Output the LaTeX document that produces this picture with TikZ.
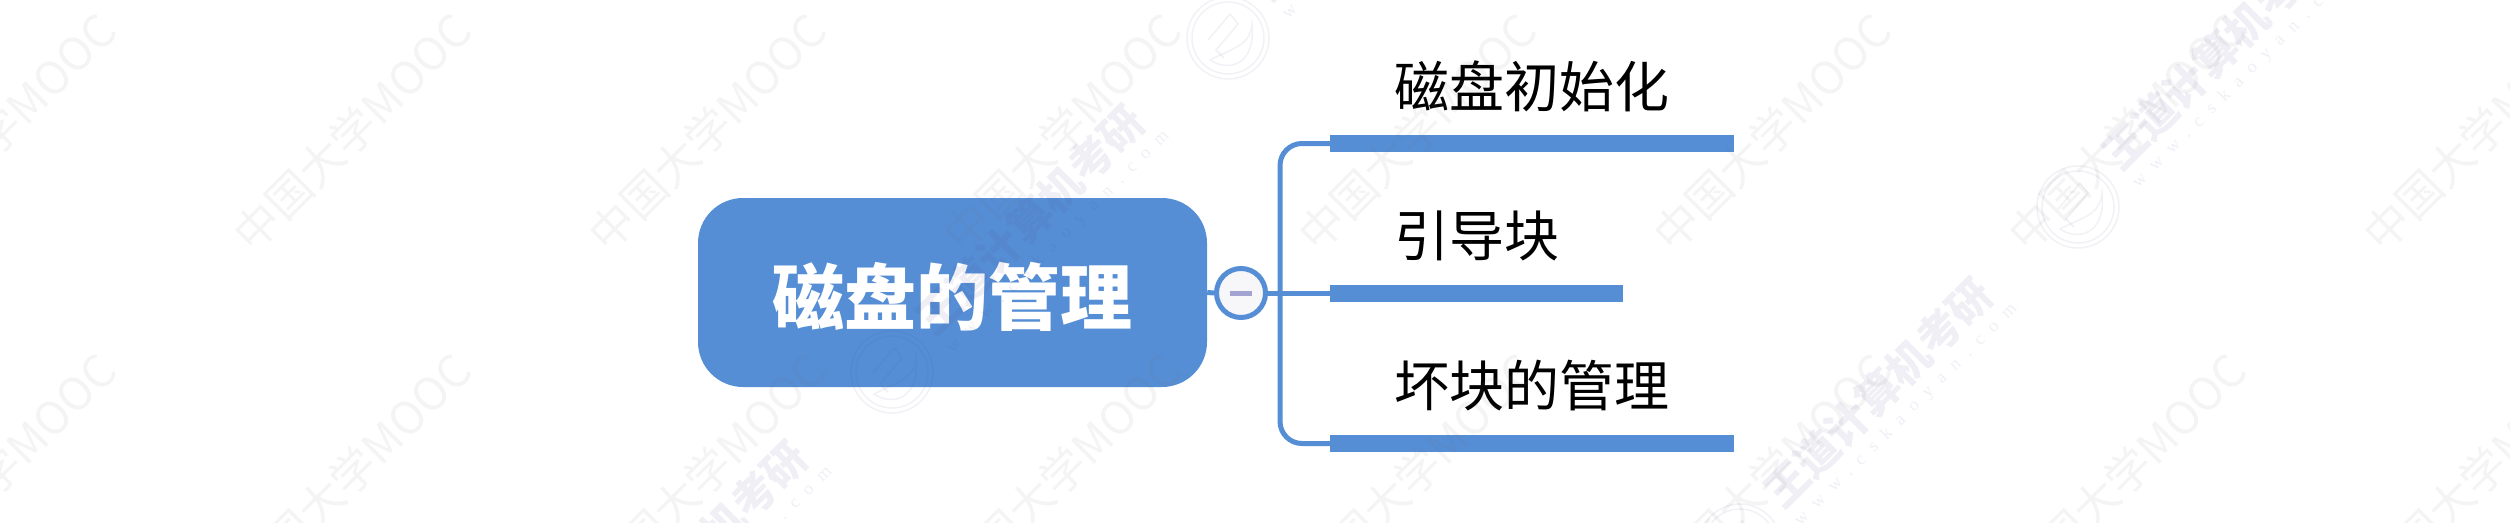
\documentclass[tikz,border=0pt]{standalone}
\usepackage{fontspec}
\usetikzlibrary{positioning}
\newfontfamily\cjk{Noto Sans CJK SC}
\newfontfamily\siteurl[LetterSpace=60]{Liberation Serif}
\definecolor{mapblue}{HTML}{558ED5}
\definecolor{togglefill}{HTML}{F7F7FA}
\definecolor{minusbar}{HTML}{A3A3D2}
\definecolor{stamp}{HTML}{4A4A8C}
\tikzset{
  rootbox/.style={rectangle,fill=mapblue,rounded corners=45pt,minimum width=509pt,minimum height=189pt,
    text=white,font=\cjk\bfseries\fontsize{72}{72}\selectfont,inner sep=0pt},
  togglenode/.style={circle,draw=mapblue,line width=5pt,fill=togglefill,minimum size=49pt,inner sep=0pt},
  minusnode/.style={rectangle,fill=minusbar,minimum width=22pt,minimum height=5pt,inner sep=0pt},
  topicbar/.style={rectangle,fill=mapblue,minimum height=17pt,inner sep=0pt,anchor=west},
  topiclabel/.style={anchor=west,inner sep=0pt,font=\cjk\fontsize{55}{55}\selectfont},
  branch/.style={draw=mapblue,line width=5pt},
  mooctext/.style={rotate=45,text=black!55,text opacity=.08,inner sep=0pt,font=\cjk\fontsize{45}{45}\selectfont},
  wangtext/.style={rotate=45,text=stamp,text opacity=.09,inner sep=0pt,font=\cjk\bfseries\fontsize{43}{43}\selectfont},
  urltext/.style={rotate=45,text=stamp,text opacity=.09,inner sep=0pt,font=\siteurl\fontsize{18}{18}\selectfont},
  stampline/.style={draw=stamp,draw opacity=.08,line width=1.5pt}
}

\begin{document}
\begin{tikzpicture}[x=1pt,y=-1pt]
      \useasboundingbox (0,0) rectangle (2510,522);
      \node[rootbox] (root) at (952.5,292.5) {\raisebox{-4pt}[\height][\depth]{磁盘的管理}};
      \node[togglenode] (toggle) at (1241,293) {};
      \node[minusnode] (minus) at (toggle) {};
      \coordinate (spine) at (1280,293);
      \node[topicbar,minimum width=404pt] (init) at (1330,143.5) {};
      \node[topicbar,minimum width=293pt] (boot) at (1330,293) {};
      \node[topicbar,minimum width=404pt] (bad) at (1330,443.5) {};
      \node[topiclabel] (initlabel) at (1394,86) {磁盘初始化};
      \node[topiclabel] (bootlabel) at (1394,236) {引导块};
      \node[topiclabel] (badlabel) at (1394,386) {坏块的管理};
      \draw[branch] (root.east) -- (toggle.west);
      \draw[branch] (toggle.east) -- (boot.west);
      \draw[branch,rounded corners=22pt] (init.west) -| (spine) |- (bad.west);
      % watermark
      \foreach \x in {-3,352,707,1062,1417,1772,2127,2482}
      \foreach \y in {132,472}
      \node[mooctext] (mooc\x-\y) at (\x,\y) {中国大学MOOC};
      \foreach \x/\y in {555/708,892/372,1228/38,1740/545,2078/207}
      {
      \node[wangtext] (wang\x) at (\x+138,\y-152) {王道计算机考研};
      \node[urltext] (url\x) at (\x+166,\y-130) {www.cskaoyan.com};
      \draw[stampline,shift={(\x,\y)}] (0,0) circle (41pt) (0,0) circle (36pt);
      \draw[stampline,shift={(\x,\y)}] (-18,22) .. controls (0,34) and (28,28) .. (24,-14) .. controls (22,8) and (5,10) .. (-18,22) -- cycle;
      \draw[stampline,shift={(\x,\y)}] (-20,2) -- (2,-24) -- (10,-14) -- (-12,12) -- (-4,20);
      }
    \end{tikzpicture}
\end{document}
